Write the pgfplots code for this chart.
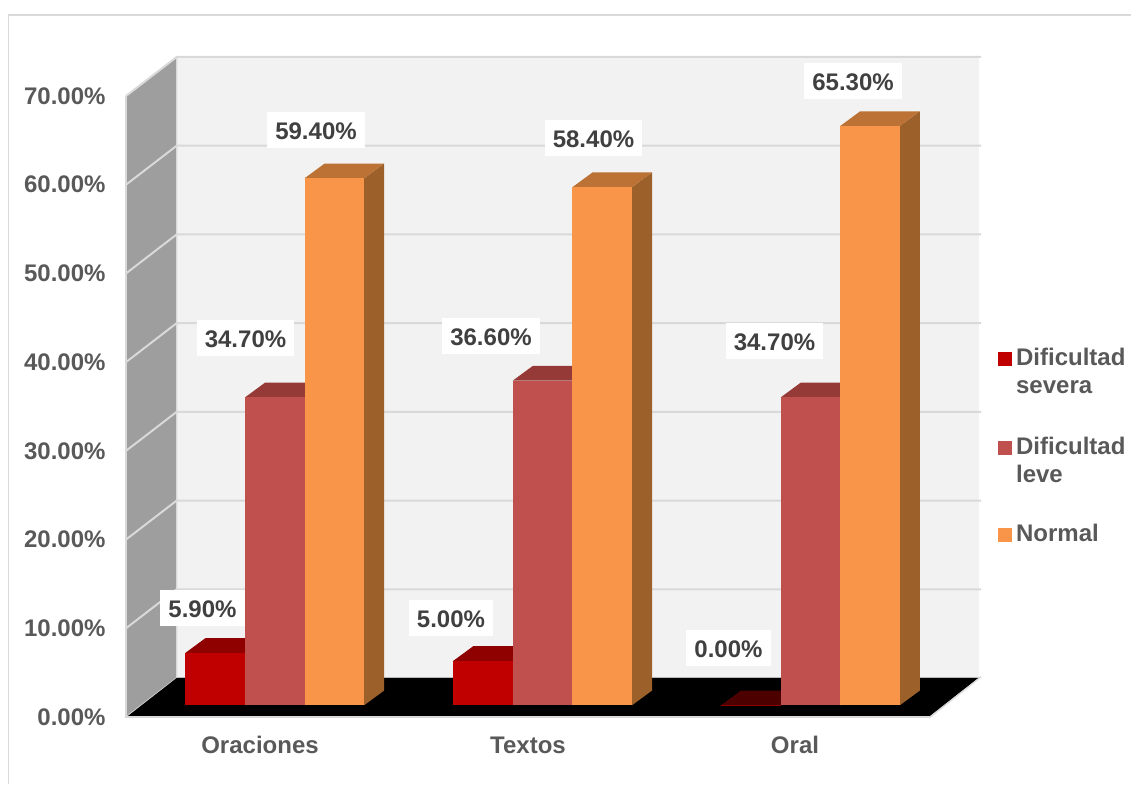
\documentclass[border=0pt]{standalone}
\usepackage{fontspec}
\setmainfont{Liberation Sans}
\usepackage{pgfplots}
\pgfplotsset{compat=1.18}

\definecolor{wallback}{HTML}{F2F2F2}
\definecolor{wallside}{HTML}{9E9E9E}
\definecolor{gridgray}{HTML}{D9D9D9}
\definecolor{axistext}{HTML}{595959}
\definecolor{labeltext}{HTML}{404040}
\definecolor{sevfront}{HTML}{C00000}
\definecolor{sevtop}{HTML}{8F0000}
\definecolor{sevzero}{HTML}{4D0000}
\definecolor{levfront}{HTML}{C0504D}
\definecolor{levtop}{HTML}{953A37}
\definecolor{norfront}{HTML}{F99548}
\definecolor{nortop}{HTML}{BB7234}
\definecolor{norside}{HTML}{9C602B}

% Oblique depth of the room and of a bar, in axis units
\def\roomdx{50.7}
\def\roomdy{4.4}
\def\bardx{20}
\def\bardy{1.66}
\def\barbase{1.32}
\def\barw{59.6}

% One bar: left edge, value, front colour, top colour, side colour
\newcommand{\cube}[5]{%
  \pgfmathsetmacro{\xa}{#1}%
  \pgfmathsetmacro{\xb}{#1+\barw}%
  \pgfmathsetmacro{\xc}{#1+\barw+\bardx}%
  \pgfmathsetmacro{\xd}{#1+\bardx}%
  \pgfmathsetmacro{\ya}{\barbase}%
  \pgfmathsetmacro{\yb}{\barbase+#2}%
  \pgfmathsetmacro{\yc}{\barbase+#2+\bardy}%
  \pgfmathsetmacro{\yd}{\barbase+\bardy}%
  \addplot[forget plot,fill=#5,draw=none] coordinates {(\xb,\ya)(\xc,\yd)(\xc,\yc)(\xb,\yb)};
  \addplot[forget plot,fill=#4,draw=none] coordinates {(\xa,\yb)(\xb,\yb)(\xc,\yc)(\xd,\yc)};
  \addplot[forget plot,fill=#3,draw=none] coordinates {(\xa,\ya)(\xa,\yb)(\xb,\yb)(\xb,\ya)};
}

% Value label: white box 36pt high, placed by its centre
\newcommand{\vlabel}[3]{%
  \node[fill=white,inner xsep=8pt,inner ysep=0pt,text height=27.3pt,text depth=8.7pt,
        text=labeltext,font=\fontsize{24}{28}\selectfont\bfseries,anchor=center]
    at (axis cs:#1,{(717-#2)/8.871}) {#3};
}

\begin{document}
\begin{tikzpicture}
\useasboundingbox (-126pt,-67pt) rectangle (1005pt,717pt);
% Chart area border
\draw[gridgray,line width=1.6pt] (-117.5pt,-67pt) -- (-117.5pt,702pt) -- (1005pt,702pt);
\begin{axis}[
  x=1pt, y=8.871pt,
  xmin=126, xmax=930, ymin=0, ymax=70,
  clip=false,
  axis line style={draw=none},
  major tick length=0pt,
  ytick={0,10,...,70},
  xtick={260,528,795},
  xticklabels={Oraciones,Textos,Oral},
  tick label style={font=\fontsize{24}{28}\selectfont\bfseries,text=axistext},
  yticklabel={\pgfmathprintnumber{\tick}\%},
  /pgf/number format/.cd,fixed,fixed zerofill,precision=2,assume math mode=true,
  /pgfplots/.cd,
  yticklabel style={anchor=east,xshift=-17pt},
  xticklabel style={anchor=center,yshift=-28pt},
  legend image code/.code={\fill[#1] (0pt,0pt) rectangle (13pt,13pt);},
  legend cell align=left,
  legend style={
    at={(1.0846,0.5985)},anchor=north west,draw=none,fill=none,
    font=\fontsize{24}{28}\selectfont\bfseries,text=axistext,
    inner sep=0pt,row sep=68pt,
    nodes={inner sep=0pt,anchor=base west},
    column sep=4.5pt,
  },
]
% Legend keys
\addlegendimage{sevfront}
\addlegendentry{\begin{tabular}[t]{@{}l@{}}Dificultad\\severa\end{tabular}}
\addlegendimage{levfront}
\addlegendentry{\begin{tabular}[t]{@{}l@{}}Dificultad\\leve\end{tabular}}
\addlegendimage{norfront}
\addlegendentry{Normal}

% Room: side wall, back wall, floor
\addplot[forget plot,fill=wallside,draw=none] coordinates {(126,0)(176.7,4.4)(176.7,74.4)(126,70)};
\addplot[forget plot,fill=wallback,draw=none] coordinates {(176.7,4.4)(176.7,74.4)(979,74.4)(979,4.4)};
\addplot[forget plot,fill=black,draw=none] coordinates {(126,0)(176.7,4.4)(979,4.4)(930,0)};

% Gridlines running along both walls
\pgfplotsinvokeforeach{10,20,30,40,50,60,70}{%
  \pgfmathsetmacro{\gy}{#1+\roomdy}%
  \addplot[forget plot,gridgray,line width=2pt] coordinates {(126,#1)(176.7,\gy)(981,\gy)};
}
\addplot[forget plot,gridgray,line width=1.6pt] coordinates {(126,70)(126,0)(930,0)(981,4.55)};
\addplot[forget plot,gridgray,line width=1.2pt] coordinates {(126,0)(176.7,4.4)(176.7,74.4)};
\addplot[forget plot,fill=black,draw=none] coordinates {(128,0.12)(176.7,4.4)(978,4.4)(929,0.12)};

% Oraciones
\cube{185.3}{5.9}{sevfront}{sevtop}{sevtop}
\cube{244.9}{34.7}{levfront}{levtop}{levtop}
\cube{304.5}{59.4}{norfront}{nortop}{norside}
% Textos
\cube{453.2}{5.0}{sevfront}{sevtop}{sevtop}
\cube{512.8}{36.6}{levfront}{levtop}{levtop}
\cube{572.4}{58.4}{norfront}{nortop}{norside}
% Oral
\cube{721.0}{0.0}{sevfront}{sevzero}{sevzero}
\addplot[forget plot,sevtop,line width=1pt] coordinates {(721.0,1.32)(780.6,1.32)};
\cube{780.6}{34.7}{levfront}{levtop}{levtop}
\cube{840.2}{65.3}{norfront}{nortop}{norside}

% Value labels
\vlabel{202.5}{608}{5.90\%}
\vlabel{245.5}{338}{34.70\%}
\vlabel{316}{130}{59.40\%}
\vlabel{451}{618}{5.00\%}
\vlabel{491}{336}{36.60\%}
\vlabel{593.5}{138}{58.40\%}
\vlabel{728.5}{648}{0.00\%}
\vlabel{774.5}{341}{34.70\%}
\vlabel{853}{81}{65.30\%}
\end{axis}
\end{tikzpicture}
\end{document}
